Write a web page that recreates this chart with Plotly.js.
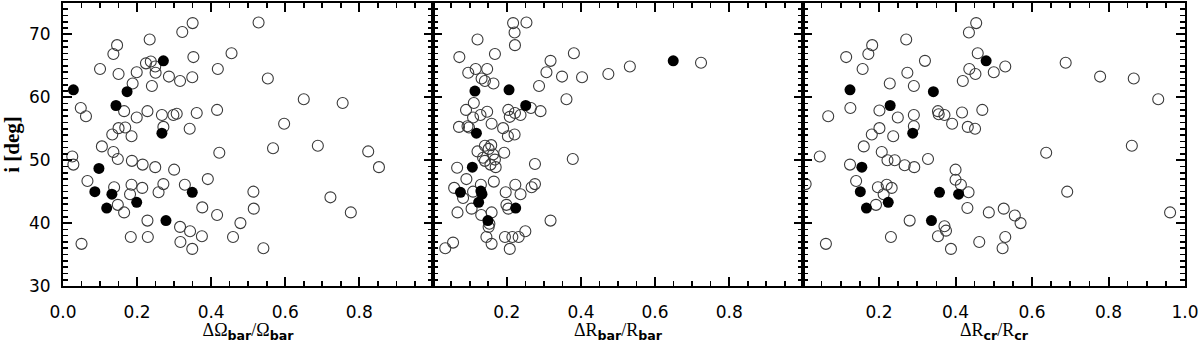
<!DOCTYPE html>
<html><head><meta charset="utf-8">
<script src="https://cdn.plot.ly/plotly-3.0.1.min.js"></script>
<style>html,body{margin:0;padding:0;background:#fff}#chart{width:1200px;height:343px}</style>
</head><body><div id="chart"></div>
<script>
// Panel 1: ΔΩbar/Ωbar
const p1OpenX = [0.025,0.028,0.048,0.062,0.100,0.105,0.136,0.146,0.150,0.165,0.133,0.150,0.168,0.136,0.148,0.188,0.199,0.185,0.199,0.186,0.215,0.224,0.234,0.237,0.249,0.250,0.240,0.228,0.267,0.271,0.249,0.286,0.316,0.322,0.350,0.352,0.349,0.298,0.307,0.342,0.361,0.300,0.418,0.416,0.422,0.455,0.066,0.138,0.148,0.165,0.185,0.181,0.214,0.228,0.183,0.229,0.050,0.258,0.271,0.316,0.317,0.329,0.343,0.349,0.375,0.376,0.391,0.416,0.459,0.479,0.528,0.553,0.650,0.755,0.597,0.567,0.688,0.824,0.853,0.514,0.515,0.541,0.722,0.777];
const p1OpenY = [50.6,49.3,58.3,57.0,64.5,52.2,66.9,68.3,63.7,57.8,54.1,55.1,55.2,51.3,50.2,62.2,64.0,53.8,56.8,49.9,49.3,65.4,69.2,65.7,64.9,63.9,61.8,57.8,57.2,55.3,48.9,63.3,62.6,70.4,71.8,66.4,63.2,57.2,57.4,55.0,57.5,48.5,64.5,58.0,51.2,67.0,46.7,45.7,42.9,41.7,46.1,44.6,45.6,40.4,37.8,37.8,36.7,44.9,46.2,39.4,37.0,46.1,38.7,35.9,37.9,42.5,47.0,41.3,37.8,40.0,71.9,63.0,59.7,59.1,55.8,51.9,52.3,51.4,48.9,45.0,42.3,36.0,44.1,41.7];
const p1FillX = [0.028,0.143,0.173,0.271,0.267,0.097,0.086,0.132,0.118,0.199,0.278,0.349];
const p1FillY = [61.2,58.7,60.9,65.8,54.3,48.7,45.0,44.6,42.4,43.3,40.4,44.9];

// Panel 2: ΔRbar/Rbar
const p2OpenX = [0.217,0.253,0.221,0.121,0.222,0.072,0.168,0.381,0.318,0.116,0.096,0.147,0.307,0.349,0.403,0.474,0.132,0.141,0.164,0.287,0.361,0.111,0.265,0.291,0.090,0.147,0.129,0.109,0.204,0.222,0.208,0.237,0.159,0.071,0.094,0.098,0.190,0.203,0.221,0.141,0.158,0.151,0.121,0.193,0.163,0.136,0.168,0.141,0.156,0.170,0.066,0.276,0.378,0.532,0.724,0.091,0.058,0.082,0.109,0.130,0.165,0.067,0.105,0.131,0.159,0.153,0.151,0.145,0.159,0.197,0.223,0.237,0.267,0.276,0.199,0.204,0.195,0.215,0.232,0.250,0.208,0.318,0.055,0.034];
const p2OpenY = [71.8,71.9,70.3,69.2,68.3,66.4,66.9,67.0,65.8,64.5,63.9,64.5,64.0,63.3,63.2,63.7,63.0,62.6,62.2,61.8,59.7,59.1,58.3,57.8,58.0,57.7,57.2,56.8,58.0,57.5,56.9,57.2,55.8,55.3,55.4,55.2,55.1,53.8,54.1,52.3,52.4,51.8,51.4,51.2,50.9,50.4,50.1,49.9,49.3,48.9,48.8,49.4,50.2,64.9,65.5,47.0,45.6,44.0,45.0,46.1,46.6,41.7,42.3,41.3,41.7,39.9,39.4,37.8,36.7,44.9,46.1,44.6,45.7,46.2,42.9,42.3,37.8,37.8,37.8,38.7,35.9,40.4,36.9,36.0];
const p2FillX = [0.114,0.251,0.206,0.649,0.118,0.107,0.075,0.130,0.133,0.124,0.224,0.149];
const p2FillY = [61.0,58.7,61.2,65.8,54.3,48.9,44.9,45.1,44.6,43.3,42.4,40.4];

// Panel 3: ΔRcr/Rcr
const p3OpenX = [0.045,0.067,0.125,0.114,0.157,0.172,0.182,0.124,0.160,0.181,0.201,0.201,0.228,0.249,0.237,0.207,0.222,0.241,0.267,0.292,0.271,0.274,0.291,0.320,0.291,0.291,0.328,0.354,0.356,0.371,0.391,0.400,0.417,0.419,0.432,0.451,0.436,0.452,0.458,0.435,0.454,0.500,0.470,0.530,0.688,0.778,0.866,0.930,0.637,0.861,0.008,0.061,0.140,0.192,0.197,0.220,0.212,0.233,0.231,0.280,0.400,0.414,0.434,0.431,0.371,0.375,0.354,0.388,0.462,0.487,0.526,0.530,0.523,0.555,0.570,0.692,0.961];
const p3OpenY = [50.6,57.0,58.3,66.4,64.5,66.9,68.3,49.3,52.2,54.1,55.1,57.9,62.2,56.8,53.8,51.3,50.0,50.0,49.2,48.9,69.2,63.9,61.8,65.8,57.2,55.4,50.2,57.8,57.3,57.2,55.8,48.5,57.6,62.6,55.3,55.0,64.5,63.7,67.0,70.3,71.8,64.0,58.0,64.9,65.5,63.3,63.0,59.7,51.2,52.3,46.2,36.7,46.7,42.9,45.7,46.1,44.6,45.6,37.8,40.4,46.9,46.1,44.9,42.4,39.5,38.8,37.9,35.9,37.0,41.7,42.3,37.8,36.0,41.2,40.0,45.0,41.7];
const p3FillX = [0.124,0.229,0.342,0.480,0.288,0.155,0.151,0.167,0.224,0.337,0.358,0.408];
const p3FillY = [61.2,58.7,60.9,65.8,54.3,48.9,45.0,42.4,43.3,40.4,44.9,44.6];

const openMarker = {symbol:'circle-open', size:11, color:'#3a3a3a', line:{width:1.1, color:'#3a3a3a'}};
const fillMarker = {symbol:'circle', size:11, color:'black', line:{width:0}};

const traces = [];
[[p1OpenX,p1OpenY,p1FillX,p1FillY,'x','y'],[p2OpenX,p2OpenY,p2FillX,p2FillY,'x2','y2'],[p3OpenX,p3OpenY,p3FillX,p3FillY,'x3','y3']].forEach(p => {
  traces.push({type:'scatter', mode:'markers', x:p[0], y:p[1], xaxis:p[4], yaxis:p[5], marker:openMarker, hoverinfo:'skip', showlegend:false});
  traces.push({type:'scatter', mode:'markers', x:p[2], y:p[3], xaxis:p[4], yaxis:p[5], marker:fillMarker, hoverinfo:'skip', showlegend:false});
});

const tickFont = {family:'DejaVu Sans, sans-serif', size:17, color:'black'};
const titleFont = {family:'Liberation Serif, Times New Roman, serif', size:18, color:'black'};
const xRanges = [[0,0.999],[0.001,0.999],[0.001,1.0]];
const yRange = [30,75];
function xax(domain, range, anchor, title) {
  return {domain:domain, anchor:anchor, range:range, showline:true, linecolor:'black', linewidth:2, mirror:'ticks',
    ticks:'inside', ticklen:9, tickwidth:2, tickcolor:'black', showgrid:false, zeroline:false,
    tickmode:'linear', tick0:0, dtick:0.2, tickformat:'.1f', tickfont:tickFont, ticklabelstandoff:10,
    minor:{tick0:0, dtick:0.05, ticks:'inside', ticklen:5, tickwidth:1.6, tickcolor:'black', showgrid:false},
    title:{text:title, font:titleFont, standoff:12}};
}
function yax(anchor, showLabels) {
  return {anchor:anchor, domain:[0,1], range:yRange, showline:true, linecolor:'black', linewidth:2, mirror:'ticks',
    ticks:'inside', ticklen:9, tickwidth:2, tickcolor:'black', showgrid:false, zeroline:false,
    tickmode:'linear', tick0:30, dtick:10, showticklabels:showLabels, tickfont:tickFont, ticklabelstandoff:7,
    minor:{tick0:30, dtick:1, ticks:'inside', ticklen:5, tickwidth:1.6, tickcolor:'black', showgrid:false},
    title: showLabels ? {text:'<b>i [deg]</b>', font:{family:'Liberation Serif, serif', size:21, color:'black'}, standoff:12} : {text:''}};
}
const sub = s => '<sub><b><span style="font-family:DejaVu Sans">' + s + '</span></b></sub>';
const layout = {
  width:1200, height:343, paper_bgcolor:'white', plot_bgcolor:'white',
  margin:{l:63, r:15, t:3, b:57},
  xaxis: xax([0,0.3298], xRanges[0], 'y', 'ΔΩ' + sub('bar') + '/Ω' + sub('bar')),
  xaxis2: xax([0.3298,0.6595], xRanges[1], 'y2', 'ΔR' + sub('bar') + '/R' + sub('bar')),
  xaxis3: xax([0.6595,1], xRanges[2], 'y3', 'ΔR' + sub('cr') + '/R' + sub('cr')),
  yaxis: yax('x', true),
  yaxis2: yax('x2', false),
  yaxis3: yax('x3', false)
};
Plotly.newPlot('chart', traces, layout, {displayModeBar:false, staticPlot:true});
</script></body></html>
